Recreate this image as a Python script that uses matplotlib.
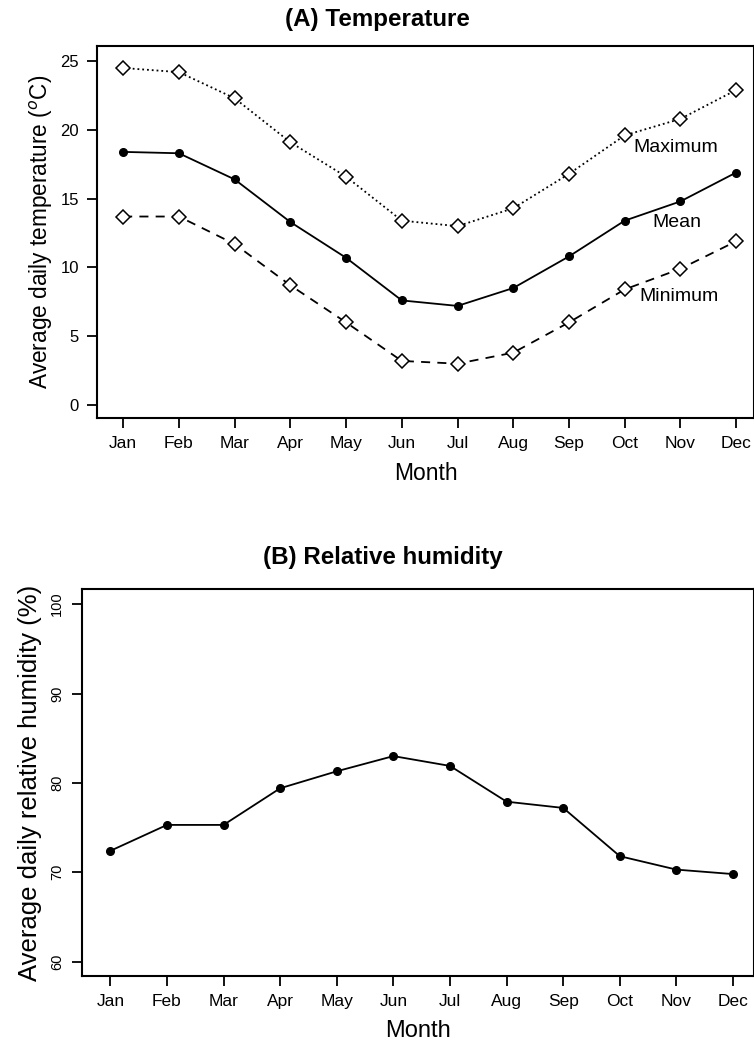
import numpy as np
import matplotlib.pyplot as plt

plt.rcParams['font.family'] = ['Liberation Sans', 'DejaVu Sans']

# Data
months = ['Jan', 'Feb', 'Mar', 'Apr', 'May', 'Jun', 'Jul', 'Aug', 'Sep', 'Oct', 'Nov', 'Dec']
temp_max = [24.5, 24.2, 22.3, 19.1, 16.6, 13.4, 13.0, 14.3, 16.8, 19.6, 20.8, 22.9]
temp_mean = [18.4, 18.3, 16.4, 13.3, 10.7, 7.6, 7.2, 8.5, 10.8, 13.4, 14.8, 16.9]
temp_min = [13.7, 13.7, 11.7, 8.7, 6.0, 3.2, 3.0, 3.8, 6.0, 8.4, 9.9, 11.9]
humidity = [72.4, 75.3, 75.3, 79.4, 81.3, 83.0, 81.9, 77.9, 77.2, 71.8, 70.3, 69.8]

x = np.arange(1, 13)

fig = plt.figure(figsize=(7.54, 10.5), dpi=100)

# (A) Temperature
ax1 = fig.add_axes([0.1286, 0.6019, 0.8714, 0.3543])
ax1.plot(x, temp_max, color='black', linestyle=':', lw=1.3, marker='D', ms=7.5,
         mfc='white', mec='black', mew=1.1)
ax1.plot(x, temp_mean, color='black', linestyle='-', lw=1.3, marker='o', ms=5.5,
         mfc='black', mec='black')
ax1.plot(x, temp_min, color='black', linestyle=(0, (5, 4)), lw=1.3, marker='D', ms=7.5,
         mfc='white', mec='black', mew=1.1)
ax1.text(10.16, 18.75, 'Maximum', fontsize=14, va='center')
ax1.text(10.5, 13.3, 'Mean', fontsize=14, va='center')
ax1.text(10.26, 7.85, 'Minimum', fontsize=14, va='center')
ax1.set_xlim(0.53, 12.32)
ax1.set_ylim(-0.95, 26.1)
ax1.set_xticks(x)
ax1.set_xticklabels(months)
ax1.set_yticks([0, 5, 10, 15, 20, 25])
ax1.set_xlabel('Month', fontsize=16.5, labelpad=8)
ax1.set_ylabel('Average daily temperature ($^o$C)', fontsize=16.3, labelpad=4)
ax1.tick_params(axis='y', labelsize=12)

# (B) Relative humidity
ax2 = fig.add_axes([0.1088, 0.0705, 0.8912, 0.3686])
ax2.plot(x, humidity, color='black', linestyle='-', lw=1.3, marker='o', ms=5.5,
         mfc='black', mec='black')
ax2.set_xlim(0.5, 12.37)
ax2.set_ylim(58.4, 101.7)
ax2.set_xticks(x)
ax2.set_xticklabels(months)
ax2.set_yticks([60, 70, 80, 90, 100])
ax2.tick_params(axis='y', labelsize=10.5)
for lab in ax2.get_yticklabels():
    lab.set_rotation(90)
    lab.set_va('center')
ax2.set_xlabel('Month', fontsize=17, labelpad=8)
ax2.set_ylabel('Average daily relative humidity (%)', fontsize=18.5, labelpad=6)

for ax in (ax1, ax2):
    for sp in ax.spines.values():
        sp.set_linewidth(1.5)
    ax.tick_params(direction='out', length=7, width=1.3, pad=6)
    ax.tick_params(axis='x', labelsize=12.5)

fig.text(0.5, 0.981, '(A) Temperature', fontsize=17.4, fontweight='bold', ha='center', va='center')
fig.text(0.508, 0.469, '(B) Relative humidity', fontsize=17.4, fontweight='bold', ha='center', va='center')

fig.savefig('out.png', dpi=100)
